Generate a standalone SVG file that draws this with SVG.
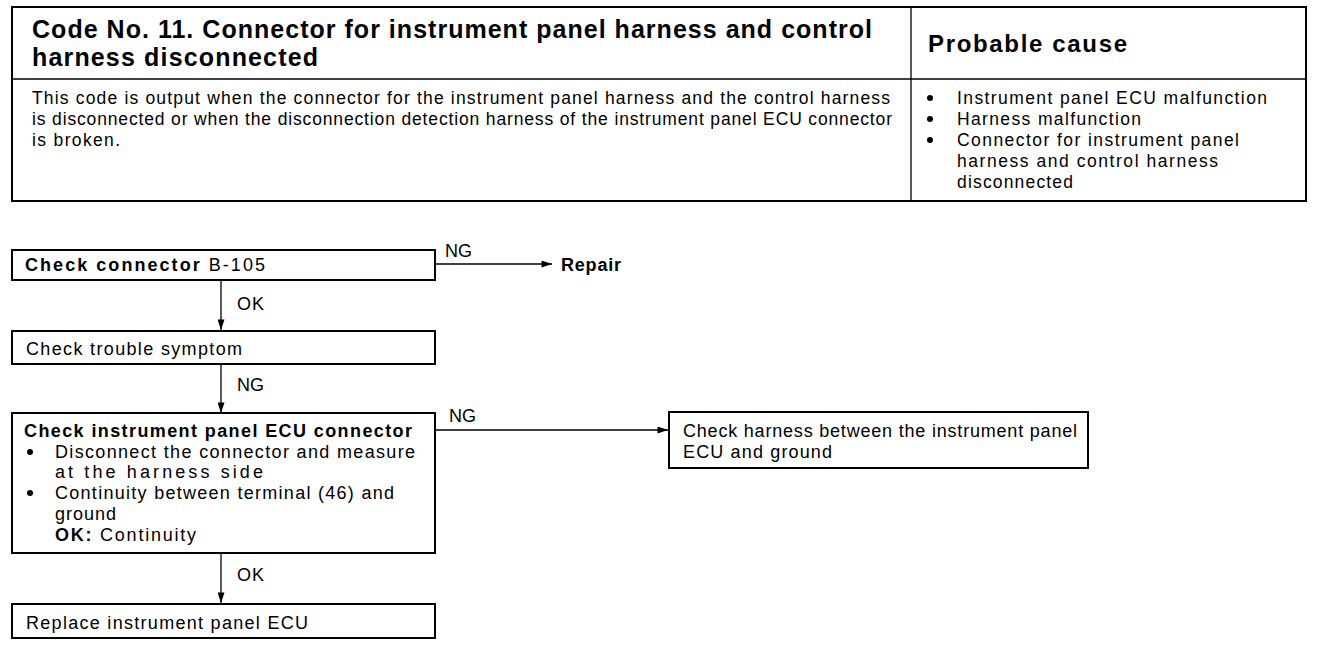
<svg xmlns="http://www.w3.org/2000/svg" width="1328" height="648" viewBox="0 0 1328 648">
<defs>
<style>
text{font-family:"Liberation Sans",Arial,sans-serif;fill:#000}
.h{font-size:25px;font-weight:bold}
.b{font-size:17.5px}
.f{font-size:18px}
.bold{font-weight:bold}
.box{fill:#fff;stroke:#000;stroke-width:2}
.ln{stroke:#000;stroke-width:1.3;fill:none}
</style>
<marker id="ah" viewBox="0 0 12 8" refX="12" refY="4" markerWidth="12" markerHeight="7" markerUnits="userSpaceOnUse" orient="auto">
<path d="M0,0 L12,4 L0,8 Z" fill="#000"/>
</marker>
</defs>
<rect width="1328" height="648" fill="#fff"/>
<g id="header">
<rect class="box" x="12" y="7" width="1294" height="194"/>
<line class="ln" x1="12" y1="79" x2="1306" y2="79" stroke-width="2"/>
<line class="ln" x1="911" y1="7" x2="911" y2="201" stroke-width="2"/>
<text class="h" x="32" y="38" textLength="840" lengthAdjust="spacing">Code No. 11. Connector for instrument panel harness and control</text>
<text class="h" x="32" y="66" textLength="286" lengthAdjust="spacing">harness disconnected</text>
<text class="h" x="928" y="52" style="font-size:24px" textLength="199" lengthAdjust="spacing">Probable cause</text>
<text class="b" x="32" y="104" textLength="858" lengthAdjust="spacing">This code is output when the connector for the instrument panel harness and the control harness</text>
<text class="b" x="32" y="125" textLength="860" lengthAdjust="spacing">is disconnected or when the disconnection detection harness of the instrument panel ECU connector</text>
<text class="b" x="32" y="146" textLength="88" lengthAdjust="spacing">is broken.</text>
<circle cx="930" cy="98" r="3"/><text class="b" x="957" y="104" textLength="310" lengthAdjust="spacing">Instrument panel ECU malfunction</text>
<circle cx="930" cy="119" r="3"/><text class="b" x="957" y="125" textLength="184" lengthAdjust="spacing">Harness malfunction</text>
<circle cx="930" cy="140" r="3"/><text class="b" x="957" y="146" textLength="282" lengthAdjust="spacing">Connector for instrument panel</text>
<text class="b" x="957" y="167" textLength="261" lengthAdjust="spacing">harness and control harness</text>
<text class="b" x="957" y="188" textLength="116" lengthAdjust="spacing">disconnected</text>
</g>
<g id="connectors">
<line class="ln" x1="435" y1="264" x2="552" y2="264" marker-end="url(#ah)"/>
<line class="ln" x1="221" y1="280" x2="221" y2="330" marker-end="url(#ah)"/>
<line class="ln" x1="221" y1="364" x2="221" y2="413" marker-end="url(#ah)"/>
<line class="ln" x1="435" y1="430" x2="668" y2="430" marker-end="url(#ah)"/>
<line class="ln" x1="221" y1="553" x2="221" y2="603" marker-end="url(#ah)"/>
<text class="f" x="445" y="257" textLength="27" lengthAdjust="spacing">NG</text>
<text class="f" x="237" y="310" textLength="27" lengthAdjust="spacing">OK</text>
<text class="f" x="237" y="391" textLength="27" lengthAdjust="spacing">NG</text>
<text class="f" x="449" y="422" textLength="27" lengthAdjust="spacing">NG</text>
<text class="f" x="237" y="581" textLength="27" lengthAdjust="spacing">OK</text>
</g>
<g id="n1">
<rect class="box" x="12" y="250" width="423" height="30"/>
<text class="f" x="25" y="271" textLength="240" lengthAdjust="spacing"><tspan class="bold">Check connector</tspan> B-105</text>
</g>
<g id="repair">
<text class="f bold" x="561" y="271" textLength="60" lengthAdjust="spacing">Repair</text>
</g>
<g id="n2">
<rect class="box" x="12" y="331" width="423" height="33"/>
<text class="f" x="26" y="355" textLength="216" lengthAdjust="spacing">Check trouble symptom</text>
</g>
<g id="n3">
<rect class="box" x="12" y="413" width="423" height="140"/>
<text class="f bold" x="24" y="437" textLength="388" lengthAdjust="spacing">Check instrument panel ECU connector</text>
<circle cx="30" cy="452" r="3"/>
<text class="f" x="55" y="458" textLength="360" lengthAdjust="spacing">Disconnect the connector and measure</text>
<text class="f" x="55" y="478" textLength="208" lengthAdjust="spacing">at the harness side</text>
<circle cx="30" cy="493" r="3"/>
<text class="f" x="55" y="499" textLength="339" lengthAdjust="spacing">Continuity between terminal (46) and</text>
<text class="f" x="55" y="520" textLength="61" lengthAdjust="spacing">ground</text>
<text class="f" x="55" y="541" textLength="141" lengthAdjust="spacing"><tspan class="bold">OK:</tspan>  Continuity</text>
</g>
<g id="n4">
<rect class="box" x="669" y="412" width="419" height="56"/>
<text class="f" x="683" y="437" textLength="394" lengthAdjust="spacing">Check harness between the instrument panel</text>
<text class="f" x="683" y="458" textLength="149" lengthAdjust="spacing">ECU and ground</text>
</g>
<g id="n5">
<rect class="box" x="12" y="604" width="423" height="34"/>
<text class="f" x="26" y="629" textLength="282" lengthAdjust="spacing">Replace instrument panel ECU</text>
</g>
</svg>
